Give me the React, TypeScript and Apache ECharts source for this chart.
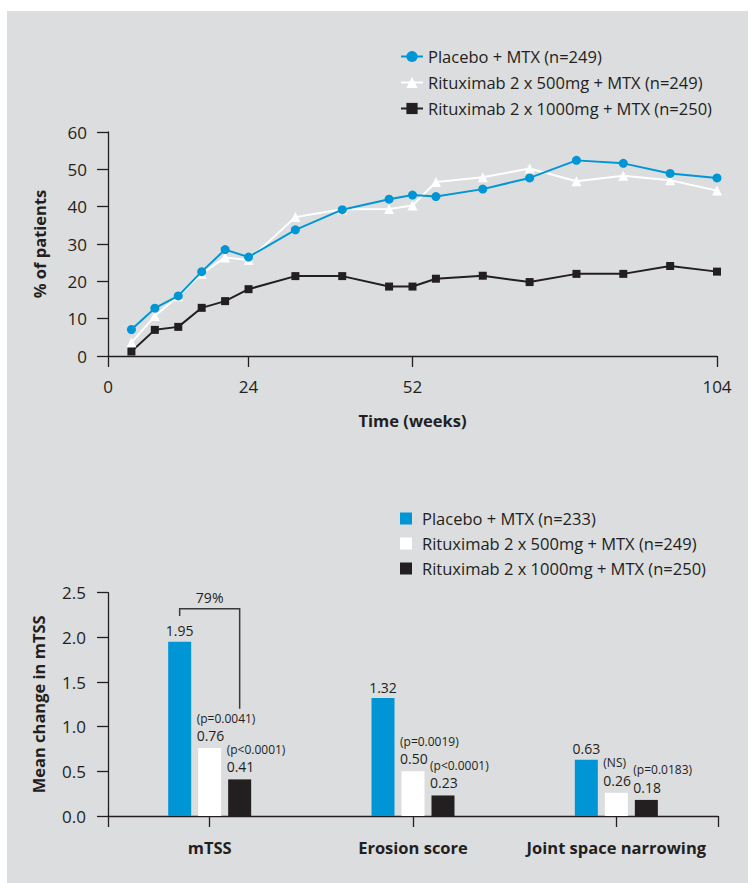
import React, { useEffect, useRef } from "react";
import * as echarts from "echarts";

// ---------- Data ----------
const weeks = [4, 8, 12, 16, 20, 24, 32, 40, 48, 52, 56, 64, 72, 80, 88, 96, 104];
const placeboPct = [7.1, 12.8, 16.1, 22.6, 28.5, 26.5, 33.8, 39.2, 42.0, 43.1, 42.7, 44.7, 47.7, 52.4, 51.6, 48.9, 47.7];
const r500Pct = [3.6, 10.7, 16.0, 22.0, 26.4, 25.7, 37.2, 39.3, 39.4, 40.3, 46.6, 47.9, 50.2, 46.8, 48.3, 47.1, 44.3];
const r1000Pct = [1.2, 7.0, 7.8, 12.9, 14.7, 17.9, 21.4, 21.4, 18.6, 18.6, 20.7, 21.5, 19.8, 22.0, 22.0, 24.1, 22.6];
const weekTicks = [0, 24, 52, 104];

const lineNames = [
  "Placebo + MTX (n=249)",
  "Rituximab 2 x 500mg + MTX (n=249)",
  "Rituximab 2 x 1000mg + MTX (n=250)",
];
const barNames = [
  "Placebo + MTX (n=233)",
  "Rituximab 2 x 500mg + MTX (n=249)",
  "Rituximab 2 x 1000mg + MTX (n=250)",
];

const categories = ["mTSS", "Erosion score", "Joint space narrowing"];
const placeboChange = [1.95, 1.32, 0.63];
const r500Change = [0.76, 0.5, 0.26];
const r1000Change = [0.41, 0.23, 0.18];
const r500P = ["(p=0.0041)", "(p=0.0019)", "(NS)"];
const r1000P = ["(p<0.0001)", "(p<0.0001)", "(p=0.0183)"];

const bracketLabel = "79%";
const bracketTop = 2.32;
const bracketLeftEnd = 2.24;
const bracketRightEnd = 1.2;

// ---------- Styles ----------
const FONT = "Open Sans";
const INK = "#231f20";
const BLUE = "#0096d6";
const BAR_W = 23;
const BAR_GAP = 7;
const BAR_PREFIX = "bar:";

export default function App() {
  const ref = useRef<HTMLDivElement>(null);

  useEffect(() => {
    if (!ref.current) return;
    const chart = echarts.init(ref.current, undefined, { renderer: "svg" });

    const axisLine = { show: true, lineStyle: { color: INK, width: 1.3 } };
    const axisTick = { show: true, length: 11, lineStyle: { color: INK, width: 1.3 } };
    const tickLabel = { color: INK, fontSize: 17, fontFamily: FONT };
    const nameStyle = { color: INK, fontSize: 16.5, fontWeight: "bold" as const, fontFamily: FONT };

    const pLabel = (pv: string[]) => ({
      show: true,
      position: "top" as const,
      distance: 3,
      align: "left" as const,
      offset: [-13, 0],
      formatter: (p: any) => `{p|${pv[p.dataIndex]}}\n{v|${Number(p.value).toFixed(2)}}`,
      rich: {
        p: { fontSize: 12, lineHeight: 16, color: INK, fontFamily: FONT },
        v: { fontSize: 14, lineHeight: 19, color: INK, fontFamily: FONT },
      },
    });

    const option: any = {
      animation: false,
      textStyle: { fontFamily: FONT },
      grid: [
        { left: 108, top: 132, width: 609, height: 224 },
        { left: 108, top: 592.7, width: 610, height: 223.3 },
      ],
      legend: [
        {
          orient: "vertical",
          left: 400,
          top: 48,
          padding: 0,
          itemWidth: 22,
          itemHeight: 14,
          itemGap: 9,
          data: lineNames,
          textStyle: { color: INK, fontSize: 16.5, fontFamily: FONT },
        },
        {
          orient: "vertical",
          left: 400,
          top: 510,
          padding: 0,
          itemWidth: 12,
          itemHeight: 12,
          itemGap: 8,
          icon: "rect",
          data: barNames.map((n) => BAR_PREFIX + n),
          formatter: (n: string) => n.replace(BAR_PREFIX, ""),
          itemStyle: { borderWidth: 0 },
          textStyle: { color: INK, fontSize: 16.5, fontFamily: FONT, padding: [0, 0, 0, 5] },
        },
      ],
      xAxis: [
        {
          type: "value",
          gridIndex: 0,
          min: 0,
          max: 104,
          name: "Time (weeks)",
          nameLocation: "middle",
          nameGap: 56,
          nameTextStyle: nameStyle,
          axisLine,
          axisTick: { ...axisTick, customValues: weekTicks },
          axisLabel: { ...tickLabel, margin: 22, customValues: weekTicks },
          splitLine: { show: false },
        },
        {
          type: "category",
          gridIndex: 1,
          data: categories,
          axisLine,
          axisTick: { ...axisTick, alignWithLabel: true },
          axisLabel: { ...tickLabel, fontSize: 16.5, fontWeight: "bold", margin: 23, interval: 0 },
          splitLine: { show: false },
        },
        {
          type: "value",
          gridIndex: 1,
          position: "bottom",
          min: 0,
          max: 1,
          interval: 1,
          axisLine: { show: false },
          axisTick,
          axisLabel: { show: false },
          splitLine: { show: false },
        },
      ],
      yAxis: [
        {
          type: "value",
          gridIndex: 0,
          min: 0,
          max: 60,
          interval: 10,
          name: "% of patients",
          nameLocation: "middle",
          nameGap: 60,
          nameTextStyle: nameStyle,
          axisLine,
          axisTick,
          axisLabel: { ...tickLabel, margin: 21 },
          splitLine: { show: false },
        },
        {
          type: "value",
          gridIndex: 1,
          min: 0,
          max: 2.5,
          interval: 0.5,
          name: "Mean change in mTSS",
          nameLocation: "middle",
          nameGap: 61,
          nameTextStyle: nameStyle,
          axisLine,
          axisTick,
          axisLabel: { ...tickLabel, margin: 22, formatter: (v: number) => v.toFixed(1) },
          splitLine: { show: false },
        },
      ],
      series: [
        {
          name: lineNames[0],
          type: "line",
          xAxisIndex: 0,
          yAxisIndex: 0,
          data: weeks.map((w, i) => [w, placeboPct[i]]),
          symbol: "circle",
          symbolSize: 9,
          lineStyle: { color: BLUE, width: 2 },
          itemStyle: { color: BLUE },
          z: 4,
        },
        {
          name: lineNames[1],
          type: "line",
          xAxisIndex: 0,
          yAxisIndex: 0,
          data: weeks.map((w, i) => [w, r500Pct[i]]),
          symbol: "triangle",
          symbolSize: 10,
          lineStyle: { color: "#ffffff", width: 2 },
          itemStyle: { color: "#ffffff" },
          z: 3,
        },
        {
          name: lineNames[2],
          type: "line",
          xAxisIndex: 0,
          yAxisIndex: 0,
          data: weeks.map((w, i) => [w, r1000Pct[i]]),
          symbol: "rect",
          symbolSize: 8,
          lineStyle: { color: INK, width: 2 },
          itemStyle: { color: INK },
          z: 3,
        },
        {
          name: BAR_PREFIX + barNames[0],
          type: "bar",
          xAxisIndex: 1,
          yAxisIndex: 1,
          data: placeboChange,
          barWidth: BAR_W,
          barGap: `${(BAR_GAP / BAR_W) * 100}%`,
          itemStyle: { color: BLUE },
          label: {
            show: true,
            position: "top",
            distance: 4,
            color: INK,
            fontSize: 14,
            fontFamily: FONT,
            formatter: (p: any) => Number(p.value).toFixed(2),
          },
        },
        {
          name: BAR_PREFIX + barNames[1],
          type: "bar",
          xAxisIndex: 1,
          yAxisIndex: 1,
          data: r500Change,
          barWidth: BAR_W,
          barGap: `${(BAR_GAP / BAR_W) * 100}%`,
          itemStyle: { color: "#ffffff" },
          label: pLabel(r500P),
        },
        {
          name: BAR_PREFIX + barNames[2],
          type: "bar",
          xAxisIndex: 1,
          yAxisIndex: 1,
          data: r1000Change,
          barWidth: BAR_W,
          barGap: `${(BAR_GAP / BAR_W) * 100}%`,
          itemStyle: { color: INK },
          label: pLabel(r1000P),
        },
        {
          type: "custom",
          xAxisIndex: 1,
          yAxisIndex: 1,
          silent: true,
          z: 5,
          data: [[0, bracketTop, bracketLeftEnd, bracketRightEnd]],
          encode: { x: 0, y: 1 },
          renderItem: (_params: any, api: any) => {
            const top = api.coord([api.value(0), api.value(1)]);
            const lEnd = api.coord([api.value(0), api.value(2)]);
            const rEnd = api.coord([api.value(0), api.value(3)]);
            const off = BAR_W + BAR_GAP;
            const cx = top[0];
            return {
              type: "group",
              children: [
                {
                  type: "polyline",
                  shape: {
                    points: [
                      [cx - off, lEnd[1]],
                      [cx - off, top[1]],
                      [cx + off, top[1]],
                      [cx + off, rEnd[1]],
                    ],
                  },
                  style: { stroke: "#3a3a3a", lineWidth: 1.5, fill: null },
                },
                {
                  type: "text",
                  x: cx,
                  y: top[1] - 4,
                  style: {
                    text: bracketLabel,
                    fontSize: 14,
                    fontFamily: FONT,
                    fill: INK,
                    align: "center",
                    verticalAlign: "bottom",
                  },
                },
              ],
            };
          },
        },
      ],
    };

    chart.setOption(option);
    return () => chart.dispose();
  }, []);

  return (
    <div style={{ position: "fixed", left: 0, top: 0, width: 749, height: 883, background: "#ffffff" }}>
      <div style={{ position: "absolute", left: 7, top: 11, width: 741, height: 872, background: "#dcdddf" }} />
      <div ref={ref} style={{ position: "absolute", left: 0, top: 0, width: 749, height: 883 }} />
    </div>
  );
}
